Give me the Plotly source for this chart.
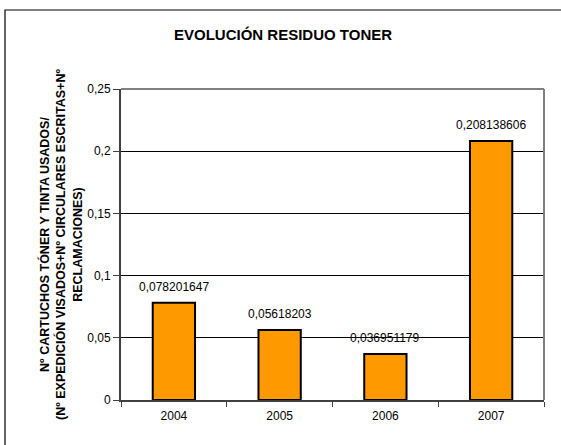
import plotly.graph_objects as go

years = ["2004", "2005", "2006", "2007"]
values = [0.078201647, 0.05618203, 0.036951179, 0.208138606]
value_labels = ["0,078201647", "0,05618203", "0,036951179", "0,208138606"]
title_text = "EVOLUCIÓN RESIDUO TONER"
ytitle_lines = ["Nº CARTUCHOS TÓNER Y TINTA USADOS/",
                "(Nº EXPEDICIÓN VISADOS+Nº CIRCULARES ESCRITAS+Nº",
                "RECLAMACIONES)"]

W, H = 561, 445
L, R, T, B = 121, 17, 89, 45
pw, ph = W - L - R, H - T - B

def px(x):
    return (x - L) / pw

def py(y):
    return (H - B - y) / ph

fig = go.Figure()
fig.add_trace(go.Bar(
    x=years, y=values, width=0.4,
    marker=dict(color="#FF9900", line=dict(color="black", width=2)),
    hoverinfo="skip",
))

for i, (v, lab) in enumerate(zip(values, value_labels)):
    fig.add_annotation(x=i, y=v, text=lab, showarrow=False, yshift=16,
                       yanchor="middle", font=dict(family="Arial, Liberation Sans", size=12, color="black"))

fig.add_annotation(xref="paper", yref="paper", x=px(283), y=py(34), text="<b>" + title_text + "</b>",
                   showarrow=False, xanchor="center", yanchor="middle",
                   font=dict(family="Arial, Liberation Sans", size=15, color="black"))

fig.add_annotation(xref="paper", yref="paper", x=px(61), y=py(245), text="<b>" + "<br>".join(ytitle_lines) + "</b>",
                   showarrow=False, textangle=-90, xanchor="center", yanchor="middle",
                   font=dict(family="Arial, Liberation Sans", size=12.5, color="black"))

# outer frame
fig.add_shape(type="rect", xref="paper", yref="paper", x0=px(5), y0=-2, x1=3, y1=py(10),
              line=dict(color="black", width=1.2), layer="below")
# plot area top/right border
fig.add_shape(type="line", xref="paper", yref="paper", x0=0, y0=1, x1=1, y1=1,
              line=dict(color="#808080", width=2))
fig.add_shape(type="line", xref="paper", yref="paper", x0=1, y0=0, x1=1, y1=1,
              line=dict(color="#808080", width=2))

fig.update_layout(
    width=W, height=H,
    margin=dict(l=L, r=R, t=T, b=B),
    paper_bgcolor="white", plot_bgcolor="white",
    separators=",.",
    showlegend=False,
    font=dict(family="Arial, Liberation Sans", color="black"),
    xaxis=dict(type="category", range=[-0.5, 3.5], tickson="boundaries", ticks="outside", ticklen=5,
               tickcolor="#404040", showline=True, linecolor="#404040", linewidth=2,
               showgrid=False, tickfont=dict(size=12), ticklabelstandoff=4),
    yaxis=dict(range=[0, 0.25], tickvals=[0, 0.05, 0.1, 0.15, 0.2, 0.25],
               ticks="outside", ticklen=6, tickcolor="#404040",
               showline=True, linecolor="#404040", linewidth=2,
               showgrid=True, gridcolor="black", gridwidth=1,
               zeroline=False, tickfont=dict(size=12)),
    bargap=0.6,
)

fig.write_html("out.html", config={"displayModeBar": False},
               post_script="document.body.style.margin='0';document.body.style.overflow='hidden';")
